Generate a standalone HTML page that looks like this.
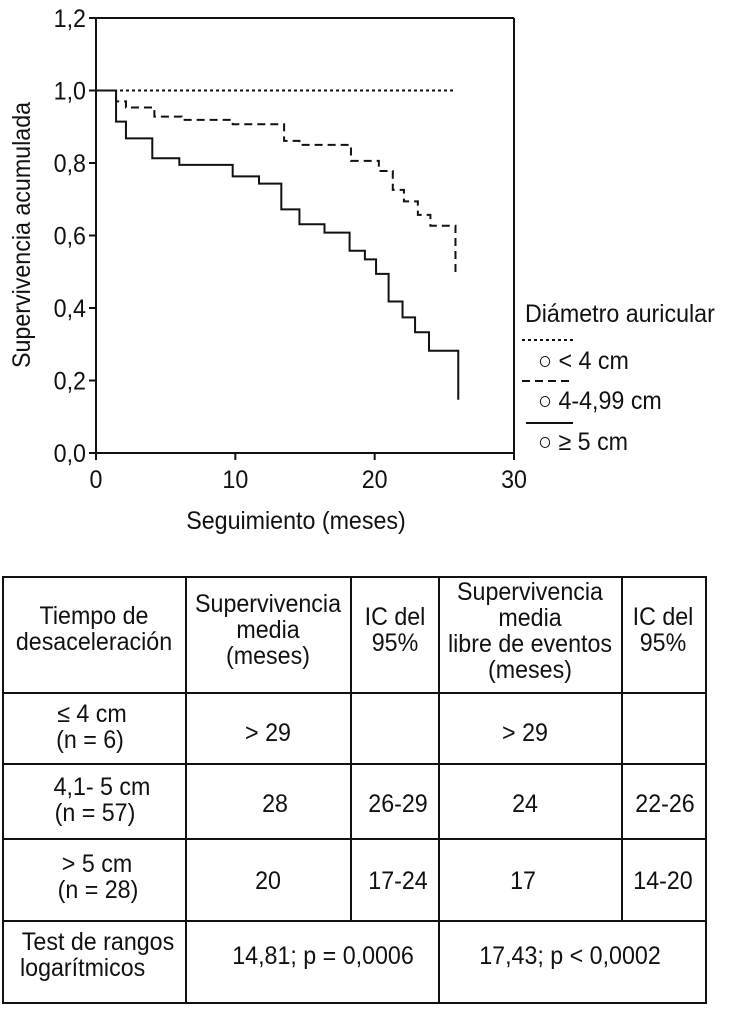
<!DOCTYPE html>
<html><head><meta charset="utf-8"><style>
body{margin:0;background:#fff;}
svg text{font-family:"Liberation Sans",sans-serif;fill:#111;font-size:25px;transform-box:fill-box;transform:scaleX(0.93);transform-origin:center;}
svg text[text-anchor="end"]{transform-origin:right;}
svg text.l{transform-origin:left;}
svg text.ytitle{transform-box:view-box;transform-origin:0 0;transform:translate(30px,235px) rotate(-90deg) scaleX(0.93);}
</style></head><body>
<svg id="chart" width="730" height="1005" viewBox="0 0 730 1005" xmlns="http://www.w3.org/2000/svg">
<g id="plot"></g>
<g id="legend">
  <text class="l" x="525" y="322">Diámetro auricular</text>
  <line x1="522" y1="340" x2="574" y2="340" stroke="#111" stroke-width="2" stroke-dasharray="3,3"/>
  <text class="l" x="538" y="369">○ &lt; 4 cm</text>
  <line x1="522" y1="381" x2="572" y2="381" stroke="#111" stroke-width="2" stroke-dasharray="8,5"/>
  <text class="l" x="538" y="409">○ 4-4,99 cm</text>
  <line x1="526" y1="423" x2="573" y2="423" stroke="#111" stroke-width="2"/>
  <text class="l" x="538" y="450">○ ≥ 5 cm</text>
</g>
<g id="table">
  <rect x="3" y="577" width="703" height="426" fill="none" stroke="#111" stroke-width="2"/>
  <line x1="3" y1="693" x2="706" y2="693" stroke="#111" stroke-width="2"/>
  <line x1="3" y1="764" x2="706" y2="764" stroke="#111" stroke-width="2"/>
  <line x1="3" y1="839" x2="706" y2="839" stroke="#111" stroke-width="2"/>
  <line x1="3" y1="921" x2="706" y2="921" stroke="#111" stroke-width="2"/>
  <line x1="186" y1="577" x2="186" y2="1003" stroke="#111" stroke-width="2"/>
  <line x1="351" y1="577" x2="351" y2="921" stroke="#111" stroke-width="2"/>
  <line x1="439" y1="577" x2="439" y2="1003" stroke="#111" stroke-width="2"/>
  <line x1="622" y1="577" x2="622" y2="921" stroke="#111" stroke-width="2"/>
  <g text-anchor="middle">
    <text x="94" y="624">Tiempo de</text><text x="94" y="650">desaceleración</text>
    <text x="268" y="612">Supervivencia</text><text x="268" y="638">media</text><text x="268" y="664">(meses)</text>
    <text x="395" y="625">IC del</text><text x="395" y="651">95%</text>
    <text x="530" y="600">Supervivencia</text><text x="530" y="626">media</text><text x="530" y="652">libre de eventos</text><text x="530" y="678">(meses)</text>
    <text x="663" y="625">IC del</text><text x="663" y="651">95%</text>
    <text x="92" y="722">≤ 4 cm</text><text x="90" y="748">(n = 6)</text>
    <text x="268" y="741">&gt; 29</text><text x="525" y="741">&gt; 29</text>
    <text x="102" y="795">4,1- 5 cm</text><text x="95" y="821">(n = 57)</text>
    <text x="275" y="812">28</text><text x="398" y="812">26-29</text><text x="525" y="812">24</text><text x="665" y="812">22-26</text>
    <text x="97" y="872">&gt; 5 cm</text><text x="98" y="898">(n = 28)</text>
    <text x="268" y="889">20</text><text x="398" y="889">17-24</text><text x="523" y="889">17</text><text x="663" y="889">14-20</text>
    <text x="98" y="950">Test de rangos</text>
    <text x="323" y="964">14,81; p = 0,0006</text><text x="570" y="964">17,43; p &lt; 0,0002</text>
  </g>
  <text class="l" x="20" y="976">logarítmicos</text>
</g>
</svg>
<script>
const xTicks=[0,10,20,30];
const yTicks=[0,0.2,0.4,0.6,0.8,1.0,1.2];
const yTickLabels=["0,0","0,2","0,4","0,6","0,8","1,0","1,2"];
// step curves: times of events and survival after each event
const smallTimes=[0,25.8];
const smallSurv=[1.0,1.0];
const medTimes=[0,1.44,2.15,4.19,6.15,9.81,13.5,14.6,18.3,20.3,21.3,22.1,23.1,24.0,25.8];
const medSurv=[1.0,0.970,0.953,0.928,0.919,0.907,0.861,0.850,0.806,0.778,0.726,0.694,0.657,0.627,0.499];
const largeTimes=[0,1.44,2.15,4.04,5.98,9.81,11.7,13.3,14.6,16.4,18.2,19.3,20.1,21.0,22.0,22.9,23.9,26.0];
const largeSurv=[1.0,0.914,0.868,0.813,0.795,0.763,0.743,0.672,0.631,0.608,0.558,0.534,0.494,0.418,0.374,0.333,0.282,0.147];

const X0=96,X1=514,Y0=453,Y1=18;
const xs=t=>X0+(X1-X0)*t/30;
const ys=v=>Y0-(Y0-Y1)*v/1.2;
const NS="http://www.w3.org/2000/svg";
const g=document.getElementById('plot');
function mk(tag,attrs){const e=document.createElementNS(NS,tag);for(const k in attrs)e.setAttribute(k,attrs[k]);g.appendChild(e);return e;}
let e=mk('line',{x1:X0,y1:Y1,x2:X0,y2:Y0,stroke:'#111','stroke-width':2});


e=mk('line',{x1:X0,y1:Y0,x2:X1,y2:Y0,stroke:'#111','stroke-width':2});


e=mk('line',{x1:X1,y1:Y1,x2:X1,y2:Y0,stroke:'#111','stroke-width':2});


e=mk('line',{x1:X0,y1:Y1,x2:X1,y2:Y1,stroke:'#111','stroke-width':2});


yTicks.forEach((v,i)=>{
  mk('line',{x1:X0-7,y1:ys(v),x2:X0,y2:ys(v),stroke:'#111','stroke-width':2});
  const t=mk('text',{x:X0-10,y:ys(v)+9,'text-anchor':'end'});
  t.textContent=yTickLabels[i];
  
  
});
xTicks.forEach(v=>{
  mk('line',{x1:xs(v),y1:Y0,x2:xs(v),y2:Y0+7,stroke:'#111','stroke-width':2});
  const t=mk('text',{x:xs(v),y:Y0+35,'text-anchor':'middle'});
  t.textContent=String(v);
  
  
});
let t=mk('text',{x:296,y:529,'text-anchor':'middle'});
t.textContent='Seguimiento (meses)';


t=mk('text',{x:0,y:0,'text-anchor':'middle','class':'ytitle'});
t.textContent='Supervivencia acumulada';


function stepPath(times,surv){
  let d='M'+xs(times[0])+','+ys(surv[0]);
  for(let i=1;i<times.length;i++){d+=' H'+xs(times[i])+' V'+ys(surv[i]);}
  return d;
}
e=mk('path',{d:stepPath(smallTimes,smallSurv),fill:'none',stroke:'#111','stroke-width':2,'stroke-dasharray':'3,3'});


e=mk('path',{d:stepPath(medTimes,medSurv),fill:'none',stroke:'#111','stroke-width':2,'stroke-dasharray':'8,5'});


e=mk('path',{d:stepPath(largeTimes,largeSurv),fill:'none',stroke:'#111','stroke-width':2});


</script>
</body></html>
